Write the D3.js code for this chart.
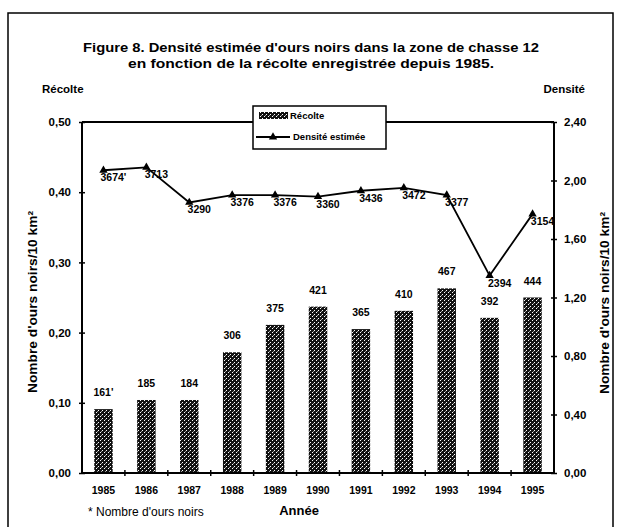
<!DOCTYPE html>
<html>
<head>
<meta charset="utf-8">
<script src="https://cdn.jsdelivr.net/npm/d3@7"></script>
<style>
  html, body { margin: 0; padding: 0; background: #fff; }
  svg { display: block; }
  text { font-family: "Liberation Sans", Arial, sans-serif; fill: #000; }
</style>
</head>
<body>
<script>
// ---- data ----
const years = ["1985","1986","1987","1988","1989","1990","1991","1992","1993","1994","1995"];
const recolte = [0.091, 0.104, 0.104, 0.172, 0.211, 0.237, 0.205, 0.231, 0.263, 0.221, 0.250];
const recolteLabels = ["161'","185","184","306","375","421","365","410","467","392","444"];
const densite = [2.07, 2.09, 1.85, 1.90, 1.90, 1.89, 1.93, 1.95, 1.90, 1.35, 1.77];
const densiteLabels = ["3674'","3713","3290","3376","3376","3360","3436","3472","3377","2394","3154"];
const leftTicks = [0, 0.1, 0.2, 0.3, 0.4, 0.5];
const rightTicks = [0, 0.4, 0.8, 1.2, 1.6, 2.0, 2.4];

const W = 621, H = 527;
const L = 82, R = 554, T = 122, B = 473;
const fmt = d => d3.format(".2f")(d).replace(".", ",");

const svg = d3.select("body").append("svg").attr("width", W).attr("height", H);

// pattern for bars
const defs = svg.append("defs");
const pat = defs.append("pattern").attr("id", "speckle")
  .attr("patternUnits", "userSpaceOnUse").attr("width", 4).attr("height", 4);
pat.append("rect").attr("width", 4).attr("height", 4).attr("fill", "#111");
pat.append("rect").attr("x", 0).attr("y", 0).attr("width", 1).attr("height", 1).attr("fill", "#fff");
pat.append("rect").attr("x", 2).attr("y", 2).attr("width", 1).attr("height", 1).attr("fill", "#fff");
pat.append("rect").attr("x", 1).attr("y", 3).attr("width", 1).attr("height", 1).attr("fill", "#999");

// frame
svg.append("path").attr("d", `M8,${H} L8,13 L613,13 L613,${H}`)
  .attr("fill", "none").attr("stroke", "#000").attr("stroke-width", 1.5);

// title
svg.append("text").attr("x", 311).attr("y", 52).attr("text-anchor", "middle")
  .attr("font-size", 12.5).attr("font-weight", "bold")
  .attr("textLength", 456).attr("lengthAdjust", "spacingAndGlyphs")
  .text("Figure 8. Densité estimée d'ours noirs dans la zone de chasse 12");
svg.append("text").attr("x", 311).attr("y", 68).attr("text-anchor", "middle")
  .attr("font-size", 12.5).attr("font-weight", "bold")
  .attr("textLength", 366).attr("lengthAdjust", "spacingAndGlyphs")
  .text("en fonction de la récolte enregistrée depuis 1985.");
svg.append("text").attr("x", 42).attr("y", 93)
  .attr("font-size", 11.5).attr("font-weight", "bold").text("Récolte");
svg.append("text").attr("x", 585).attr("y", 93).attr("text-anchor", "end")
  .attr("font-size", 11.5).attr("font-weight", "bold").text("Densité");

// scales
const x = d3.scaleBand().domain(years).range([L, R]).paddingInner(0.57).paddingOuter(0.285);
const yL = d3.scaleLinear().domain([0, 0.5]).range([B, T]);
const yR = d3.scaleLinear().domain([0, 2.4]).range([B, T]);
const cx = d => x(d) + x.bandwidth() / 2;

// bars
svg.append("g").selectAll("rect").data(years).join("rect")
  .attr("x", d => x(d)).attr("width", x.bandwidth())
  .attr("y", (d, i) => yL(recolte[i]))
  .attr("height", (d, i) => B - yL(recolte[i]))
  .attr("fill", "url(#speckle)");

// bar labels
svg.append("g").selectAll("text").data(years).join("text")
  .attr("x", d => cx(d)).attr("y", (d, i) => yL(recolte[i]) - 13)
  .attr("text-anchor", "middle").attr("font-size", 10.5).attr("font-weight", "bold")
  .text((d, i) => recolteLabels[i]);

// axes
const axL = svg.append("g").attr("transform", `translate(${L},0)`)
  .call(d3.axisLeft(yL).tickValues(leftTicks).tickFormat(fmt).tickSize(3).tickPadding(8));
const axR = svg.append("g").attr("transform", `translate(${R},0)`)
  .call(d3.axisRight(yR).tickValues(rightTicks).tickFormat(fmt).tickSize(3).tickPadding(7));
[axL, axR].forEach((g, k) => {
  g.select(".domain").attr("stroke-width", 2).attr("d", `M0,${T}V${B}`);
  g.selectAll(".tick line").attr("x1", k === 0 ? 3 : -3).attr("stroke-width", 1.5);
  g.selectAll(".tick text").attr("font-family", "Liberation Sans, Arial, sans-serif")
    .attr("font-size", 11.5).attr("font-weight", "bold");
});

// top and bottom lines
svg.append("line").attr("x1", L).attr("x2", R).attr("y1", T).attr("y2", T)
  .attr("stroke", "#000").attr("stroke-width", 2);
const axB = svg.append("g").attr("transform", `translate(0,${B})`)
  .call(d3.axisBottom(x).tickSize(0).tickPadding(14));
axB.select(".domain").attr("stroke-width", 2).attr("d", `M${L},0H${R}`);
axB.selectAll(".tick text").attr("font-family", "Liberation Sans, Arial, sans-serif")
  .attr("font-size", 10.5).attr("font-weight", "bold");
// category boundary ticks
svg.append("g").selectAll("line").data(years.slice(1)).join("line")
  .attr("x1", d => x(d) - (x.step() - x.bandwidth()) / 2)
  .attr("x2", d => x(d) - (x.step() - x.bandwidth()) / 2)
  .attr("y1", B - 3).attr("y2", B + 3).attr("stroke", "#000").attr("stroke-width", 1.5);

// density line
const line = d3.line().x((d, i) => cx(years[i])).y(d => yR(d));
svg.append("path").datum(densite).attr("d", line)
  .attr("fill", "none").attr("stroke", "#000").attr("stroke-width", 1.8);
const tri = d3.symbol().type(d3.symbolTriangle).size(30);
svg.append("g").selectAll("path").data(densite).join("path")
  .attr("transform", (d, i) => `translate(${cx(years[i])},${yR(d)})`)
  .attr("d", tri).attr("fill", "#000");
svg.append("g").selectAll("text").data(densite).join("text")
  .attr("x", (d, i) => cx(years[i]) + 10).attr("y", d => yR(d) + 11)
  .attr("text-anchor", "middle").attr("font-size", 10.5).attr("font-weight", "bold")
  .text((d, i) => densiteLabels[i]);

// legend
const lg = svg.append("g");
lg.append("rect").attr("x", 253).attr("y", 106).attr("width", 133).attr("height", 43)
  .attr("fill", "#fff").attr("stroke", "#000").attr("stroke-width", 1.5);
lg.append("rect").attr("x", 259).attr("y", 112).attr("width", 29).attr("height", 7)
  .attr("fill", "url(#speckle)");
lg.append("text").attr("x", 290).attr("y", 119).attr("font-size", 9.5).attr("font-weight", "bold").text("Récolte");
lg.append("line").attr("x1", 256).attr("x2", 290).attr("y1", 137).attr("y2", 137)
  .attr("stroke", "#000").attr("stroke-width", 1.8);
lg.append("path").attr("transform", "translate(273,137)").attr("d", tri).attr("fill", "#000");
lg.append("text").attr("x", 293).attr("y", 140).attr("font-size", 9.5).attr("font-weight", "bold").text("Densité estimée");

// axis titles
svg.append("text").attr("transform", "translate(37,302) rotate(-90)").attr("text-anchor", "middle")
  .attr("font-size", 12).attr("font-weight", "bold")
  .attr("textLength", 182).attr("lengthAdjust", "spacingAndGlyphs")
  .text("Nombre d'ours noirs/10 km²");
svg.append("text").attr("transform", "translate(609,303) rotate(-90)").attr("text-anchor", "middle")
  .attr("font-size", 12).attr("font-weight", "bold")
  .attr("textLength", 182).attr("lengthAdjust", "spacingAndGlyphs")
  .text("Nombre d'ours noirs/10 km²");

svg.append("text").attr("x", 299).attr("y", 515).attr("text-anchor", "middle")
  .attr("font-size", 13).attr("font-weight", "bold").text("Année");
svg.append("text").attr("x", 88).attr("y", 516)
  .attr("font-size", 12).text("* Nombre d'ours noirs");
</script>
</body>
</html>
